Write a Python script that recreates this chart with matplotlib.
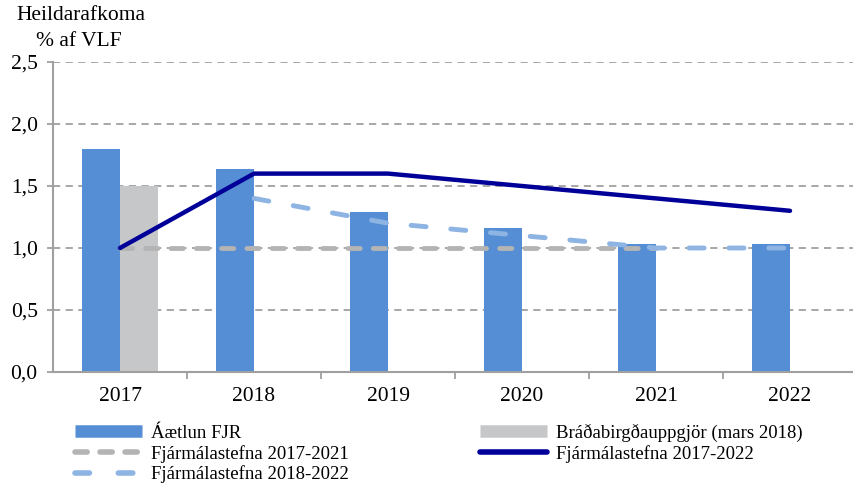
import matplotlib.pyplot as plt
from matplotlib.lines import Line2D
import numpy as np

years = ["2017", "2018", "2019", "2020", "2021", "2022"]
aaetlun = [1.80, 1.64, 1.29, 1.16, 1.03, 1.03]
bradab = [1.50, None, None, None, None, None]
fs_2017_2021 = [1.0, 1.0, 1.0, 1.0, 1.0, None]
fs_2017_2022 = [1.0, 1.6, 1.6, 1.5, 1.4, 1.3]
fs_2018_2022 = [None, 1.4, 1.2, 1.1, 1.0, 1.0]

c_blue = "#558ED5"
c_gray = "#C6C7C9"
c_navy = "#000099"
c_lblue = "#8DB4E2"
c_dgray = "#B4B4B4"

plt.rcParams["font.family"] = ["Liberation Serif", "DejaVu Serif"]
plt.rcParams["font.size"] = 15.5

fig = plt.figure(figsize=(8.54, 4.87), dpi=100)
ax = fig.add_axes([53 / 854, 115 / 487, 804 / 854, 310 / 487])

x = np.arange(len(years))
w = 0.28
ax.bar(x - w / 2, aaetlun, width=w, color=c_blue, zorder=2)
bx = [i for i, v in enumerate(bradab) if v is not None]
ax.bar(np.array(bx) + w / 2, [bradab[i] for i in bx], width=w, color=c_gray, zorder=2)

def series(vals):
    xs = [i for i, v in enumerate(vals) if v is not None]
    return xs, [vals[i] for i in xs]

gs = (0, (2.5, 2.7))
ls_ = (0, (3.1, 5.1))
xs, ys = series(fs_2017_2021)
ax.plot(xs, ys, color=c_dgray, lw=3.5, ls=gs, dash_capstyle="round", zorder=3)
xs, ys = series(fs_2018_2022)
ax.plot(xs, ys, color=c_lblue, lw=3.5, ls=ls_, dash_capstyle="round", zorder=3)
xs, ys = series(fs_2017_2022)
ax.plot(xs, ys, color=c_navy, lw=3.2, solid_capstyle="round", zorder=4)

ax.set_xlim(-0.5, 5.5)
ax.set_ylim(0, 2.5)
ax.set_yticks([0, 0.5, 1.0, 1.5, 2.0, 2.5])
ax.set_yticklabels(["0,0", "0,5", "1,0", "1,5", "2,0", "2,5"])
ax.yaxis.grid(True, color="#A0A0A0", ls=(0, (4, 3)), lw=1.3, zorder=0)
ax.tick_params(axis="y", length=4, width=1.3, color="#A0A0A0", pad=7)
ax.set_xticks(x)
ax.set_xticklabels(years)
ax.set_xticks(np.arange(0.5, 5.5, 1), minor=True)
ax.tick_params(axis="x", which="major", length=0, pad=11)
ax.tick_params(axis="x", which="minor", length=5, color="#A0A0A0", width=1.3)
for s in ["top", "right"]:
    ax.spines[s].set_visible(False)
ax.spines["left"].set_color("#A0A0A0")
ax.spines["bottom"].set_color("#A0A0A0")
ax.spines["left"].set_linewidth(1.5)
ax.spines["bottom"].set_linewidth(1.5)

fig.text(81 / 854, 1 - 16 / 487, "Heildarafkoma", ha="center", va="center", fontsize=15.5)
fig.text(79 / 854, 1 - 42 / 487, "% af VLF", ha="center", va="center", fontsize=15.5)

handles = [
    Line2D([], [], color=c_blue, lw=9, solid_capstyle="butt"),
    Line2D([], [], color=c_dgray, lw=4, ls=(0, (2.2, 2.3)), dash_capstyle="round"),
    Line2D([], [], color=c_lblue, lw=4, ls=(0, (2.6, 5.2)), dash_capstyle="round"),
    Line2D([], [], color=c_gray, lw=9, solid_capstyle="butt"),
    Line2D([], [], color=c_navy, lw=4, solid_capstyle="round"),
]
labels = ["Áætlun FJR", "Fjármálastefna 2017-2021", "Fjármálastefna 2018-2022",
          "Bráðabirgðauppgjör (mars 2018)", "Fjármálastefna 2017-2022"]
fig.legend(handles, labels, ncol=2, loc="upper left",
           bbox_to_anchor=(69 / 854, 1 - 418 / 487), frameon=False,
           handlelength=3.6, handletextpad=0.45, columnspacing=7.0,
           labelspacing=0.16, fontsize=13.5, borderaxespad=0, borderpad=0.3)

fig.savefig("out.png", dpi=100)
